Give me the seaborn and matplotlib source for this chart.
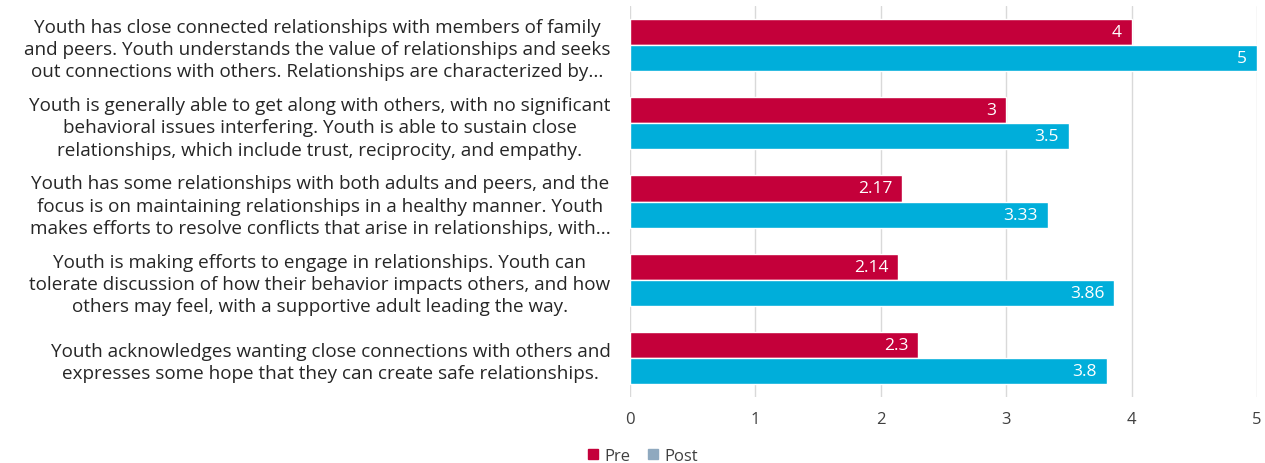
import pandas as pd
import matplotlib.pyplot as plt
import seaborn as sns
from matplotlib.patches import Patch

# Data
statements = [
    "Youth has close connected relationships with members of family\nand peers. Youth understands the value of relationships and seeks\nout connections with others. Relationships are characterized by...",
    "Youth is generally able to get along with others, with no significant\nbehavioral issues interfering. Youth is able to sustain close\nrelationships, which include trust, reciprocity, and empathy.",
    "Youth has some relationships with both adults and peers, and the\nfocus is on maintaining relationships in a healthy manner. Youth\nmakes efforts to resolve conflicts that arise in relationships, with...",
    "Youth is making efforts to engage in relationships. Youth can\ntolerate discussion of how their behavior impacts others, and how\nothers may feel, with a supportive adult leading the way.",
    "Youth acknowledges wanting close connections with others and\nexpresses some hope that they can create safe relationships.",
]
pre = [4, 3, 2.17, 2.14, 2.3]
post = [5, 3.5, 3.33, 3.86, 3.8]
pre_labels = ["4", "3", "2.17", "2.14", "2.3"]
post_labels = ["5", "3.5", "3.33", "3.86", "3.8"]

df = pd.DataFrame({
    "Statement": statements * 2,
    "Score": pre + post,
    "Time": ["Pre"] * 5 + ["Post"] * 5,
})

sns.set_style("white")
plt.rcParams['font.family'] = ['Open Sans', 'DejaVu Sans']

fig = plt.figure(figsize=(12.65, 4.64), dpi=100)
ax = fig.add_axes([630 / 1265, 1 - 398 / 464, 627 / 1265, 391 / 464])

colors = {"Pre": "#C4003A", "Post": "#00AEDA"}
sns.barplot(data=df, x="Score", y="Statement", hue="Time", order=statements,
            hue_order=["Pre", "Post"], palette=colors, width=0.67,
            ax=ax, legend=False, saturation=1, zorder=3)

# value labels inside the bar ends
for cont, labs in zip(ax.containers, [pre_labels, post_labels]):
    ax.bar_label(cont, labels=labs, label_type="edge", padding=-7,
                 color="white", fontsize=12.5)
for txt in ax.texts:
    txt.set_horizontalalignment("right")

ax.set_xlim(0, 5)
ax.set_xticks([0, 1, 2, 3, 4, 5])
ax.grid(axis="x", color="#D9D9D9", linewidth=1, zorder=0)
ax.set_xlabel("")
ax.set_ylabel("")
for s in ax.spines.values():
    s.set_visible(False)
ax.tick_params(axis="x", length=0, pad=10, labelsize=12, labelcolor="#404040")
ax.tick_params(axis="y", length=0, pad=14, labelsize=13.6, labelcolor="#262626")
for lab in ax.get_yticklabels():
    lab.set_multialignment("center")
    lab.set_linespacing(1.3)

handles = [Patch(color="#C4003A", label="Pre"), Patch(color="#8FA9BF", label="Post")]
fig.legend(handles=handles, loc="center", bbox_to_anchor=(643 / 1265, 1 - 457 / 464),
           ncol=2, frameon=False, fontsize=12, handlelength=0.6, handleheight=0.6,
           handletextpad=0.4, columnspacing=1.0, labelcolor="#404040")

fig.savefig("out.png", dpi=100)
